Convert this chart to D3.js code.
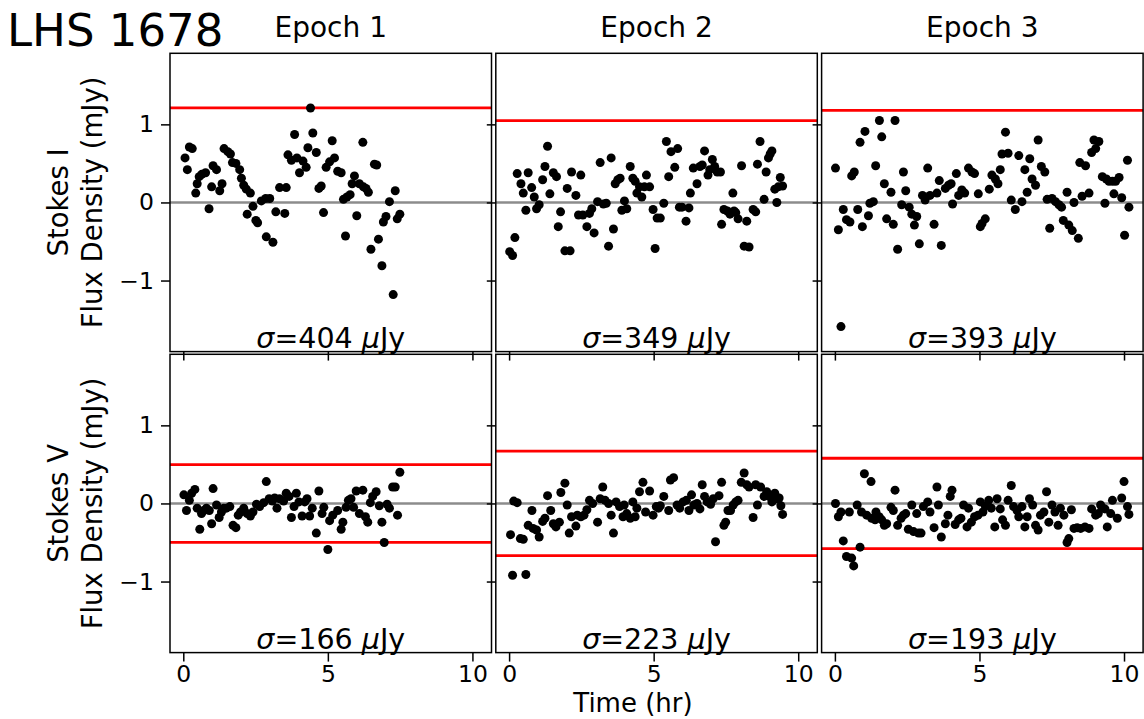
<!DOCTYPE html>
<html lang="en">
<head>
<meta charset="utf-8">
<title>LHS 1678</title>
<script src="https://d3js.org/d3.v7.min.js"></script>
<style>
  body { margin: 0; background: white; }
  svg text { font-family: "DejaVu Sans", sans-serif; fill: black; }
</style>
</head>
<body>
<div id="chart"></div>
<script>
// ---- data: [time (hr), flux density (mJy)] ----
var epoch1I = [[0.06,0.57],[0.14,0.42],[0.21,0.71],[0.31,0.69],[0.43,0.12],[0.48,0.24],[0.55,0.33],[0.64,0.36],[0.77,0.38],[0.89,-0.08],
  [0.98,0.20],[1.03,0.47],[1.15,0.42],[1.26,0.15],[1.34,0.24],[1.41,0.69],[1.54,0.65],[1.63,0.62],[1.70,0.51],[1.82,0.50],
  [1.95,0.42],[2.01,0.31],[2.09,0.22],[2.18,0.17],[2.32,0.12],[2.21,-0.15],[2.41,-0.05],[2.51,-0.23],[2.57,-0.26],[2.70,0.02],
  [2.85,0.05],[2.99,0.05],[2.87,-0.44],[3.10,-0.51],[3.20,-0.12],[3.33,0.19],[3.51,-0.14],[3.56,0.19],[3.62,0.61],[3.74,0.54],
  [3.85,0.87],[3.93,0.57],[4.02,0.38],[4.14,0.53],[4.25,0.45],[4.31,0.70],[4.40,1.21],[4.48,0.89],[4.60,0.64],[4.69,0.18],
  [4.77,0.21],[4.85,-0.13],[4.94,0.45],[5.06,0.52],[5.15,0.79],[5.23,0.57],[5.34,0.40],[5.46,0.38],[5.54,0.04],[5.61,-0.43],
  [5.66,0.07],[5.77,0.10],[5.84,0.24],[5.92,0.34],[6.00,-0.17],[6.09,0.24],[6.21,0.77],[6.23,0.20],[6.32,0.18],[6.40,0.13],
  [6.49,-0.60],[6.61,0.49],[6.69,0.48],[6.75,-0.47],[6.87,-0.81],[6.92,-0.25],[7.01,-0.18],[7.13,0.01],[7.26,-1.18],[7.33,0.15],
  [7.40,-0.21],[7.49,-0.15]];

var epoch2I = [[0.02,-0.63],[0.12,-0.68],[0.20,-0.45],[0.28,0.37],[0.41,0.24],[0.49,0.12],[0.58,-0.10],[0.66,0.38],[0.78,0.19],[0.87,0.07],
  [0.95,-0.08],[1.04,-0.03],[1.16,0.29],[1.24,0.46],[1.33,0.72],[1.41,0.11],[1.53,0.38],[1.64,0.33],[1.70,-0.31],[1.78,-0.12],
  [1.93,-0.62],[2.01,0.18],[2.11,-0.62],[2.16,0.39],[2.31,0.09],[2.40,-0.16],[2.48,0.35],[2.55,-0.16],[2.69,-0.31],[2.78,-0.14],
  [2.86,-0.08],[2.94,-0.39],[3.06,0.01],[3.15,0.51],[3.26,-0.02],[3.36,-0.01],[3.44,-0.56],[3.53,0.57],[3.61,-0.34],[3.67,0.24],
  [3.76,0.29],[3.84,0.31],[3.90,-0.10],[3.99,0.02],[4.07,-0.08],[4.19,0.46],[4.28,0.31],[4.36,0.27],[4.42,0.12],[4.51,0.20],
  [4.59,0.07],[4.68,0.20],[4.75,0.35],[4.86,0.20],[4.98,-0.09],[5.05,-0.59],[5.12,-0.20],[5.23,-0.20],[5.35,-0.01],[5.44,0.78],
  [5.52,0.33],[5.60,0.65],[5.73,0.45],[5.83,0.69],[5.89,-0.06],[5.98,-0.06],[6.12,-0.24],[6.22,-0.07],[6.27,0.12],[6.37,0.44],
  [6.50,0.24],[6.60,0.46],[6.68,0.48],[6.76,0.66],[6.88,0.35],[6.94,0.42],[7.03,0.55],[7.11,0.46],[7.20,0.39],[7.31,0.39],
  [7.35,-0.28],[7.43,-0.09],[7.55,-0.11],[7.64,-0.15],[7.74,0.12],[7.78,-0.11],[7.84,-0.13],[7.92,-0.21],[8.04,0.47],[8.13,-0.56],
  [8.22,-0.24],[8.30,-0.57],[8.44,-0.09],[8.53,-0.12],[8.59,0.49],[8.68,0.78],[8.82,0.04],[8.89,0.39],[8.97,0.57],[9.03,0.62],
  [9.09,0.66],[9.19,0.17],[9.26,0.00],[9.31,0.20],[9.38,0.32],[9.46,0.21]];

var epoch3I = [[0.02,0.44],[0.12,-0.35],[0.21,-1.59],[0.29,-0.09],[0.40,-0.22],[0.52,-0.25],[0.58,0.34],[0.67,0.39],[0.79,-0.09],[0.87,0.77],
  [0.95,-0.31],[1.04,0.91],[1.16,-0.17],[1.21,-0.01],[1.33,0.01],[1.41,0.47],[1.54,1.05],[1.62,0.84],[1.71,0.24],[1.79,-0.21],
  [1.94,0.13],[2.02,-0.28],[2.08,1.05],[2.17,-0.60],[2.31,-0.03],[2.37,0.39],[2.45,0.15],[2.57,-0.06],[2.66,-0.15],[2.75,-0.29],
  [2.83,-0.18],[2.92,-0.53],[3.03,0.09],[3.12,0.03],[3.21,0.44],[3.29,0.09],[3.43,-0.28],[3.53,0.12],[3.61,0.28],[3.68,-0.55],
  [3.82,0.18],[3.93,0.22],[4.02,0.24],[4.07,-0.02],[4.20,0.37],[4.28,0.09],[4.39,0.16],[4.49,0.12],[4.62,0.44],[4.74,0.39],
  [4.83,0.37],[4.96,0.11],[5.03,-0.31],[5.09,-0.27],[5.20,-0.21],[5.34,0.17],[5.43,0.35],[5.55,0.30],[5.64,0.24],[5.72,0.42],
  [5.78,0.62],[5.90,0.90],[5.99,0.63],[6.10,0.03],[6.24,-0.09],[6.36,0.60],[6.47,0.01],[6.57,0.42],[6.65,0.13],[6.74,0.56],
  [6.82,0.30],[6.94,0.22],[7.03,0.80],[7.14,0.46],[7.26,0.39],[7.34,0.04],[7.43,-0.33],[7.51,0.05],[7.63,0.01],[7.75,-0.03],
  [7.84,-0.06],[7.90,-0.23],[8.03,0.13],[8.09,-0.29],[8.21,-0.36],[8.27,0.00],[8.42,-0.46],[8.47,0.51],[8.55,0.08],[8.67,0.47],
  [8.79,0.12],[8.88,0.64],[8.96,0.80],[9.02,0.69],[9.13,0.78],[9.25,0.33],[9.34,-0.01],[9.39,0.30],[9.48,0.27],[9.60,0.27],
  [9.65,0.11],[9.71,0.27],[9.83,0.32],[9.92,0.06],[10.02,-0.42],[10.12,0.54],[10.17,-0.06]];

var epoch1V = [[0.02,0.11],[0.11,-0.09],[0.21,0.04],[0.29,0.13],[0.40,0.18],[0.48,-0.06],[0.57,-0.33],[0.63,-0.13],[0.71,-0.09],[0.80,-0.06],
  [0.90,-0.09],[0.98,-0.26],[1.03,0.19],[1.15,-0.02],[1.24,-0.18],[1.32,-0.11],[1.40,-0.06],[1.49,-0.06],[1.61,-0.04],[1.72,-0.28],
  [1.82,-0.31],[1.90,-0.15],[1.98,-0.11],[2.09,-0.06],[2.21,-0.13],[2.32,-0.16],[2.41,-0.11],[2.53,-0.01],[2.64,-0.04],[2.78,0.01],
  [2.87,0.28],[2.97,0.06],[3.08,0.03],[3.16,0.07],[3.24,-0.06],[3.33,0.06],[3.47,0.03],[3.56,0.13],[3.66,0.09],[3.74,-0.18],
  [3.83,-0.04],[3.91,0.13],[4.00,0.02],[4.11,-0.16],[4.20,0.02],[4.28,0.06],[4.37,-0.16],[4.46,-0.06],[4.60,-0.38],[4.69,0.16],
  [4.80,-0.13],[4.86,-0.05],[5.00,-0.59],[5.06,-0.22],[5.17,-0.15],[5.34,-0.09],[5.46,-0.33],[5.52,-0.24],[5.63,-0.05],[5.71,0.04],
  [5.80,0.06],[5.89,-0.05],[5.98,0.16],[6.09,-0.13],[6.21,0.17],[6.30,-0.17],[6.38,-0.24],[6.47,0.01],[6.55,0.09],[6.67,0.15],
  [6.78,-0.03],[6.87,-0.24],[6.95,-0.50],[7.05,-0.01],[7.13,-0.06],[7.24,0.21],[7.33,0.21],[7.41,-0.15],[7.49,0.40]];

var epoch2V = [[0.05,-0.40],[0.12,-0.92],[0.16,0.03],[0.28,0.01],[0.39,-0.45],[0.49,-0.46],[0.58,-0.91],[0.66,-0.28],[0.79,-0.09],[0.83,-0.32],
  [0.95,-0.34],[1.04,-0.43],[1.16,-0.23],[1.24,-0.19],[1.33,0.10],[1.44,-0.09],[1.53,-0.26],[1.62,-0.30],[1.74,-0.24],[1.79,0.14],
  [1.93,0.26],[2.01,-0.02],[2.08,-0.38],[2.16,-0.17],[2.31,-0.29],[2.36,-0.15],[2.48,-0.17],[2.59,-0.15],[2.69,-0.08],[2.78,0.04],
  [2.89,0.00],[3.06,-0.24],[3.15,0.06],[3.24,0.21],[3.32,0.04],[3.44,0.00],[3.53,-0.15],[3.61,-0.38],[3.70,0.02],[3.82,-0.04],
  [3.94,-0.17],[3.98,-0.02],[4.07,-0.13],[4.19,-0.19],[4.28,0.02],[4.36,-0.17],[4.42,-0.06],[4.51,0.15],[4.63,0.27],[4.72,-0.11],
  [4.86,0.16],[4.98,-0.15],[5.09,-0.04],[5.17,-0.06],[5.23,-0.03],[5.35,0.09],[5.52,-0.09],[5.58,0.30],[5.69,0.33],[5.81,-0.02],
  [5.90,-0.06],[6.02,0.02],[6.13,0.04],[6.22,-0.09],[6.31,0.11],[6.39,-0.02],[6.50,0.00],[6.60,-0.07],[6.68,0.24],[6.76,0.09],
  [6.85,0.02],[6.97,-0.01],[7.06,0.06],[7.14,-0.49],[7.26,0.10],[7.35,0.27],[7.43,-0.28],[7.49,-0.24],[7.57,-0.09],[7.66,-0.09],
  [7.75,-0.02],[7.84,0.02],[7.92,0.04],[8.03,0.27],[8.13,0.39],[8.22,0.24],[8.30,0.21],[8.44,-0.18],[8.53,0.24],[8.59,-0.02],
  [8.70,0.21],[8.82,0.09],[8.91,0.15],[8.99,0.09],[9.09,0.02],[9.19,0.13],[9.26,0.06],[9.34,0.07],[9.40,-0.03],[9.46,-0.14]];

var epoch3V = [[0.02,0.00],[0.12,-0.17],[0.21,-0.11],[0.29,-0.48],[0.40,-0.68],[0.50,-0.11],[0.58,-0.70],[0.65,-0.80],[0.77,-0.02],[0.87,-0.56],
  [0.92,-0.11],[1.02,0.38],[1.10,-0.15],[1.25,0.28],[1.27,-0.19],[1.39,-0.21],[1.42,-0.11],[1.53,-0.17],[1.62,-0.21],[1.71,-0.28],
  [1.79,-0.26],[1.94,-0.05],[2.02,-0.09],[2.08,0.17],[2.17,-0.28],[2.29,-0.19],[2.37,-0.15],[2.45,-0.13],[2.54,-0.33],[2.66,-0.02],
  [2.72,-0.36],[2.83,-0.13],[2.89,-0.38],[2.98,-0.38],[3.06,-0.04],[3.21,0.02],[3.29,-0.11],[3.43,-0.31],[3.53,0.21],[3.58,-0.02],
  [3.68,-0.43],[3.82,-0.26],[3.91,-0.15],[3.99,0.09],[4.05,0.17],[4.16,-0.27],[4.28,-0.21],[4.36,-0.19],[4.45,-0.02],[4.57,-0.30],
  [4.62,-0.06],[4.72,-0.24],[4.83,-0.17],[4.95,-0.15],[5.03,0.02],[5.12,-0.11],[5.20,-0.03],[5.32,0.04],[5.41,-0.06],[5.53,-0.30],
  [5.61,0.06],[5.72,-0.07],[5.80,-0.21],[5.90,-0.28],[5.99,0.04],[6.10,0.23],[6.18,-0.04],[6.30,-0.09],[6.36,-0.17],[6.47,-0.04],
  [6.57,-0.30],[6.65,-0.17],[6.73,0.06],[6.84,-0.02],[6.94,-0.28],[7.03,-0.34],[7.11,-0.15],[7.23,-0.11],[7.32,0.15],[7.40,-0.24],
  [7.51,-0.02],[7.61,-0.11],[7.72,-0.28],[7.80,-0.06],[7.92,-0.15],[8.03,-0.50],[8.09,-0.45],[8.18,-0.08],[8.27,-0.32],[8.38,-0.31],
  [8.50,-0.32],[8.65,-0.30],[8.79,-0.32],[8.88,-0.07],[9.02,-0.15],[9.11,-0.13],[9.19,-0.02],[9.27,-0.06],[9.34,-0.07],[9.42,-0.30],
  [9.54,-0.13],[9.60,0.04],[9.77,-0.19],[9.92,0.07],[10.00,0.28],[10.12,-0.04],[10.17,-0.14]];

var epochs = ["Epoch 1", "Epoch 2", "Epoch 3"];
var stokes = ["Stokes I", "Stokes V"];
var sigmaI = [404, 349, 393];   // uJy
var sigmaV = [166, 223, 193];   // uJy
var xTicks = [0, 5, 10];
var yTicks = [-1, 0, 1];
var xDomain = [-0.46, 10.66];
var yDomain = [-1.91, 1.91];

var rows = [
  {data: [epoch1I, epoch2I, epoch3I], sigma: sigmaI, lower: false},
  {data: [epoch1V, epoch2V, epoch3V], sigma: sigmaV, lower: true}
];

// ---- layout ----
var W = 1144, H = 719;
var colLeft = [170, 495.8, 821.6], panelW = 321.5;
var rowTop = [53.3, 354.3], panelH = 298.3;

var svg = d3.select("#chart").append("svg")
  .attr("width", W).attr("height", H);

svg.append("text")
  .attr("x", 7).attr("y", 46)
  .style("font-size", "45px")
  .text("LHS 1678");

rows.forEach(function(row, r) {
  row.data.forEach(function(pts, c) {
    var x = d3.scaleLinear().domain(xDomain).range([colLeft[c], colLeft[c] + panelW]);
    var y = d3.scaleLinear().domain(yDomain).range([rowTop[r] + panelH, rowTop[r]]);
    var g = svg.append("g");
    var clipId = "clip" + r + c;
    g.append("clipPath").attr("id", clipId)
      .append("rect")
        .attr("x", colLeft[c]).attr("y", rowTop[r])
        .attr("width", panelW).attr("height", panelH);
    var inner = g.append("g").attr("clip-path", "url(#" + clipId + ")");

    // zero line
    inner.append("line")
      .attr("x1", colLeft[c]).attr("x2", colLeft[c] + panelW)
      .attr("y1", y(0)).attr("y2", y(0))
      .attr("stroke", "#8c8c8c").attr("stroke-width", 2.5);

    // 3 sigma lines
    var lim = 3 * row.sigma[c] / 1000;
    var levels = row.lower ? [lim, -lim] : [lim];
    levels.forEach(function(v) {
      inner.append("line")
        .attr("x1", colLeft[c]).attr("x2", colLeft[c] + panelW)
        .attr("y1", y(v)).attr("y2", y(v))
        .attr("stroke", "#ff0000").attr("stroke-width", 2.8);
    });

    inner.selectAll("circle").data(pts).enter().append("circle")
      .attr("cx", function(d) { return x(d[0]); })
      .attr("cy", function(d) { return y(d[1]); })
      .attr("r", 4.5)
      .attr("fill", "black");

    // axes
    var yAxis = d3.axisLeft(y).tickValues(yTicks).tickSize(9).tickPadding(7)
      .tickFormat(function(d) { return c === 0 ? d3.format("")(d).replace("-", "\u2212") : ""; });
    var ya = g.append("g").attr("transform", "translate(" + colLeft[c] + ",0)").call(yAxis);
    var xAxis = d3.axisBottom(x).tickValues(xTicks).tickSize(9).tickPadding(4)
      .tickFormat(function(d) { return r === 1 ? d : ""; });
    var xa = g.append("g").attr("transform", "translate(0," + (rowTop[r] + panelH) + ")").call(xAxis);
    [ya, xa].forEach(function(a) {
      a.select(".domain").remove();
      a.selectAll("line").attr("stroke", "black").attr("stroke-width", 1.5);
      a.selectAll("text").style("font-size", "23.5px").attr("font-family", null).attr("fill", "black");
    });

    // frame
    g.append("rect")
      .attr("x", colLeft[c]).attr("y", rowTop[r])
      .attr("width", panelW).attr("height", panelH)
      .attr("fill", "none").attr("stroke", "black").attr("stroke-width", 1.5);

    // sigma annotation
    var s = g.append("text")
      .attr("x", colLeft[c] + panelW / 2)
      .attr("y", rowTop[r] + panelH - 3.5)
      .attr("text-anchor", "middle")
      .style("font-size", "28.5px");
    s.append("tspan").style("font-style", "italic").text("\u03c3");
    s.append("tspan").text("=" + row.sigma[c] + " ");
    s.append("tspan").style("font-style", "italic").text("\u03bc");
    s.append("tspan").text("Jy");

    if (r === 0) {
      svg.append("text")
        .attr("x", colLeft[c] + panelW / 2).attr("y", 37)
        .attr("text-anchor", "middle")
        .style("font-size", "28px")
        .text(epochs[c]);
    }
  });

  // row label
  var cy = rowTop[r] + panelH / 2;
  var lab = svg.append("text")
    .attr("transform", "translate(68," + cy + ") rotate(-90)")
    .attr("text-anchor", "middle")
    .style("font-size", "27.5px");
  lab.append("tspan").attr("x", 0).attr("y", 0).text(stokes[r]);
  lab.append("tspan").attr("x", 0).attr("y", 34).text("Flux Density (mJy)");
});

svg.append("text")
  .attr("x", 633).attr("y", 712)
  .attr("text-anchor", "middle")
  .style("font-size", "26px")
  .text("Time (hr)");
</script>
</body>
</html>
